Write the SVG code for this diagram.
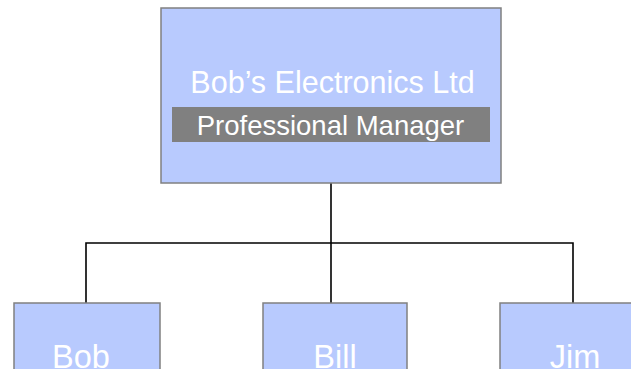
<svg xmlns="http://www.w3.org/2000/svg" width="631" height="369" viewBox="0 0 631 369">
<style>
.box{fill:#B8CAFE;stroke:#808080;stroke-width:1.5}
.lbl{font-family:"Liberation Sans",Arial,sans-serif;fill:#ffffff;text-anchor:middle}
.con{fill:none;stroke:#000;stroke-width:1.6}
</style>
<rect width="631" height="369" fill="#fff"/>
<g id="connectors">
<path class="con" d="M331,183 V243"/>
<path class="con" d="M86,303 V243 H573 V303"/>
<path class="con" d="M331,243 V303"/>
</g>
<g id="company">
<rect class="box" x="161" y="8" width="340" height="175"/>
<text class="lbl" x="332.5" y="93" font-size="30.5">Bob’s Electronics Ltd</text>
<rect x="172" y="107" width="318" height="35" fill="#808080"/>
<text class="lbl" x="330.5" y="135" font-size="27.5">Professional Manager</text>
</g>
<g id="bob">
<rect class="box" x="14" y="303" width="146" height="80"/>
<text class="lbl" x="81" y="368" font-size="32.5">Bob</text>
</g>
<g id="bill">
<rect class="box" x="263" y="303" width="144" height="80"/>
<text class="lbl" x="335" y="368" font-size="32.5">Bill</text>
</g>
<g id="jim">
<rect class="box" x="500" y="303" width="150" height="80"/>
<text class="lbl" x="575" y="368" font-size="32.5">Jim</text>
</g>
</svg>
